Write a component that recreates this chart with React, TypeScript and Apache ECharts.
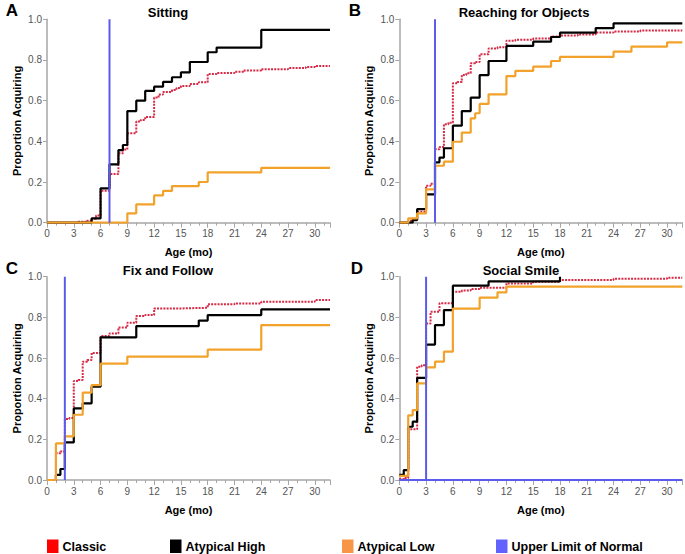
import React, { useEffect, useRef } from "react";
import * as echarts from "echarts";

const FONT = "'Liberation Sans', Arial, sans-serif";
const X_END = 31.7;

const panelTitles = ["Sitting", "Reaching for Objects", "Fix and Follow", "Social Smile"];
const panelLetters = ["A", "B", "C", "D"];
const upperLimits = [7, 4, 2, 3];
const xTicks = [0, 3, 6, 9, 12, 15, 18, 21, 24, 27, 30];
const legendNames = ["Classic", "Atypical High", "Atypical Low", "Upper Limit of Normal"];

// [age (mo), proportion acquiring] — value holds from this age on
const sittingClassic = [[0, 0], [3.5, 0.005], [4.5, 0.01], [5, 0.02], [5.5, 0.035], [6, 0.157], [7, 0.239], [8, 0.341], [8.5, 0.36], [9, 0.44], [10, 0.497], [10.5, 0.505], [11, 0.52], [12, 0.615], [12.5, 0.63], [13, 0.643], [14, 0.652], [14.5, 0.662], [15, 0.672], [16, 0.682], [17, 0.69], [18, 0.731], [19, 0.736], [21, 0.742], [22, 0.748], [24, 0.755], [27, 0.76], [29, 0.766], [30, 0.77], [X_END, 0.77]];
const sittingHigh = [[0, 0], [5, 0.021], [6, 0.169], [7, 0.287], [8, 0.357], [8.5, 0.382], [9, 0.549], [10, 0.6], [11, 0.648], [12, 0.669], [13, 0.692], [14, 0.715], [15, 0.739], [16, 0.79], [18, 0.838], [19, 0.861], [24, 0.948], [X_END, 0.948]];
const sittingLow = [[0, 0], [9, 0.046], [10, 0.09], [12, 0.134], [13, 0.156], [14, 0.18], [17, 0.2], [18, 0.247], [24, 0.27], [X_END, 0.27]];

const reachingClassic = [[0, 0], [1, 0.01], [1.5, 0.02], [2, 0.054], [3, 0.182], [3.5, 0.192], [4, 0.361], [4.5, 0.372], [5, 0.484], [5.5, 0.492], [6, 0.685], [6.5, 0.692], [7, 0.726], [7.5, 0.735], [8, 0.784], [8.5, 0.79], [9, 0.828], [10, 0.856], [11, 0.862], [12, 0.895], [13, 0.9], [15, 0.905], [17, 0.915], [18, 0.92], [20, 0.925], [22, 0.935], [24, 0.94], [27, 0.945], [X_END, 0.945]];
const reachingHigh = [[0, 0], [1.5, 0.013], [2, 0.067], [3, 0.139], [4, 0.297], [4.5, 0.32], [5, 0.366], [6, 0.477], [7, 0.549], [8, 0.615], [9, 0.726], [10, 0.795], [12, 0.869], [15, 0.89], [17, 0.913], [18, 0.934], [22, 0.957], [24, 0.98], [X_END, 0.98]];
const reachingLow = [[0, 0], [1, 0.021], [2, 0.046], [3, 0.164], [4, 0.28], [5, 0.3], [6, 0.398], [7, 0.443], [8, 0.513], [8.5, 0.538], [9, 0.584], [10, 0.631], [12, 0.721], [13, 0.746], [15, 0.767], [17, 0.795], [18, 0.815], [24, 0.841], [26, 0.866], [30, 0.887], [X_END, 0.887]];

const fixClassic = [[0, 0], [1, 0.131], [1.5, 0.14], [2, 0.3], [2.5, 0.305], [3, 0.487], [3.5, 0.492], [4, 0.582], [4.5, 0.59], [5, 0.625], [6, 0.708], [7, 0.72], [8, 0.75], [9, 0.774], [10, 0.807], [11, 0.812], [12, 0.844], [15, 0.847], [18, 0.864], [21, 0.868], [24, 0.877], [30, 0.885], [X_END, 0.885]];
const fixHigh = [[0, 0], [1, 0.025], [1.5, 0.054], [2, 0.185], [3, 0.352], [4, 0.377], [5, 0.459], [6, 0.702], [10, 0.757], [17, 0.784], [18, 0.811], [24, 0.839], [X_END, 0.839]];
const fixLow = [[0, 0], [1, 0.18], [2, 0.215], [3, 0.321], [4, 0.43], [5, 0.467], [6, 0.572], [9, 0.607], [18, 0.641], [24, 0.762], [X_END, 0.762]];

const smileClassic = [[0, 0.005], [0.5, 0.01], [1, 0.25], [2, 0.557], [2.5, 0.565], [3, 0.77], [3.5, 0.827], [4.5, 0.869], [6, 0.926], [7, 0.932], [8, 0.94], [9, 0.946], [12, 0.967], [15, 0.975], [18, 0.984], [24, 0.99], [30, 0.995], [X_END, 0.995]];
const smileHigh = [[0, 0.025], [0.5, 0.049], [1, 0.262], [1.5, 0.287], [2, 0.502], [3, 0.666], [4, 0.762], [5, 0.836], [6, 0.956], [10, 0.977], [18, 1.0]];
const smileLow = [[0, 0.02], [1, 0.318], [1.5, 0.344], [2, 0.475], [3, 0.554], [4, 0.582], [5, 0.631], [6, 0.843], [9, 0.897], [11, 0.923], [12, 0.951], [X_END, 0.951]];

const classicSets = [sittingClassic, reachingClassic, fixClassic, smileClassic];
const highSets = [sittingHigh, reachingHigh, fixHigh, smileHigh];
const lowSets = [sittingLow, reachingLow, fixLow, smileLow];

const COLORS = { classic: "#d62a46", high: "#000000", low: "#f2a22a", limit: "#5c5cec" };
const LEGEND_COLORS = ["#ff0000", "#000000", "#f79646", "#6262ff"];

export default function App() {
  const ref = useRef<HTMLDivElement>(null);
  useEffect(() => {
    if (!ref.current) return;
    const chart = echarts.init(ref.current, null, { renderer: "svg" });

    const grids = [
      { left: 47, top: 19.3, width: 283, height: 203.4 },
      { left: 399.3, top: 19.3, width: 283, height: 203.4 },
      { left: 47, top: 276.7, width: 283, height: 203.3 },
      { left: 399.3, top: 276.7, width: 283, height: 203.3 },
    ];
    const axisGray = "#a6a6a6";
    const xAxes = grids.map((_, i) => ({
      type: "value",
      gridIndex: i,
      min: 0,
      max: X_END,
      interval: 3,
      name: "Age (mo)",
      nameLocation: "middle",
      nameGap: 24,
      nameTextStyle: { fontFamily: FONT, fontWeight: "bold", fontSize: 11, color: "#000" },
      axisLine: { show: true, lineStyle: { color: axisGray, width: 1.5 } },
      axisTick: { show: true, length: 5, lineStyle: { color: axisGray } },
      minorTick: { show: true, splitNumber: 3, length: 3, lineStyle: { color: axisGray } },
      splitLine: { show: false },
      axisLabel: {
        fontFamily: FONT,
        fontSize: 10,
        color: "#555",
        margin: 6,
        showMaxLabel: false,
        formatter: (v: number) => (xTicks.includes(v) ? String(v) : ""),
      },
    }));
    const yAxes = grids.map((_, i) => ({
      type: "value",
      gridIndex: i,
      min: 0,
      max: 1,
      interval: 0.2,
      name: "Proportion Acquiring",
      nameLocation: "middle",
      nameGap: 25,
      nameTextStyle: { fontFamily: FONT, fontWeight: "bold", fontSize: 11, color: "#000" },
      axisLine: { show: true, lineStyle: { color: axisGray, width: 1.5 } },
      axisTick: { show: true, length: 4, lineStyle: { color: axisGray } },
      splitLine: { show: false },
      axisLabel: {
        fontFamily: FONT,
        fontSize: 10,
        color: "#555",
        margin: 5,
        formatter: (v: number) => v.toFixed(1),
      },
    }));

    const series: any[] = [];
    for (let i = 0; i < 4; i++) {
      series.push({
        type: "line",
        name: "Classic",
        xAxisIndex: i,
        yAxisIndex: i,
        step: "end",
        symbol: "none",
        data: classicSets[i],
        lineStyle: { color: COLORS.classic, width: 2, type: [2, 1.2] },
        z: 2,
      });
      series.push({
        type: "line",
        name: "Atypical High",
        xAxisIndex: i,
        yAxisIndex: i,
        step: "end",
        symbol: "none",
        data: highSets[i],
        lineStyle: { color: COLORS.high, width: 2.2 },
        z: 3,
      });
      series.push({
        type: "line",
        name: "Atypical Low",
        xAxisIndex: i,
        yAxisIndex: i,
        step: "end",
        symbol: "none",
        data: lowSets[i],
        lineStyle: { color: COLORS.low, width: 2.2 },
        z: 4,
      });
      const limitData =
        i === 3
          ? [[0, 0], [upperLimits[i], 0], [upperLimits[i], 1], [upperLimits[i], 0], [X_END, 0]]
          : [[upperLimits[i], 0], [upperLimits[i], 1]];
      series.push({
        type: "line",
        name: "Upper Limit of Normal",
        xAxisIndex: i,
        yAxisIndex: i,
        symbol: "none",
        data: limitData,
        lineStyle: { color: COLORS.limit, width: 2 },
        z: 5,
      });
    }

    const titlePos = [
      [168, 12],
      [524, 12],
      [168, 270],
      [521, 270],
    ];
    const letterPos = [
      [12, 10],
      [355, 10],
      [12, 268],
      [357, 268],
    ];
    const graphics: any[] = [];
    for (let i = 0; i < 4; i++) {
      graphics.push({
        type: "text",
        x: titlePos[i][0],
        y: titlePos[i][1],
        style: {
          text: panelTitles[i],
          font: `bold 13px ${FONT}`,
          fill: "#000",
          textAlign: "center",
          textVerticalAlign: "middle",
        },
      });
      graphics.push({
        type: "text",
        x: letterPos[i][0],
        y: letterPos[i][1],
        style: {
          text: panelLetters[i],
          font: `bold 17px ${FONT}`,
          fill: "#000",
          textAlign: "center",
          textVerticalAlign: "middle",
        },
      });
    }
    const legendX = [47, 170, 342, 496];
    legendNames.forEach((nm, k) => {
      graphics.push({
        type: "rect",
        shape: { x: legendX[k], y: 539.5, width: 11.5, height: 13.5 },
        style: { fill: LEGEND_COLORS[k] },
      });
      graphics.push({
        type: "text",
        x: legendX[k] + 15.5,
        y: 546.5,
        style: {
          text: nm,
          font: `bold 12.5px ${FONT}`,
          fill: "#000",
          textAlign: "left",
          textVerticalAlign: "middle",
        },
      });
    });

    chart.setOption({
      animation: false,
      backgroundColor: "#ffffff",
      grid: grids,
      xAxis: xAxes,
      yAxis: yAxes,
      series,
      graphic: graphics,
    });
    return () => chart.dispose();
  }, []);
  return (
    <div
      ref={ref}
      style={{ position: "fixed", left: 0, top: 0, width: 685, height: 554, background: "#fff" }}
    />
  );
}
